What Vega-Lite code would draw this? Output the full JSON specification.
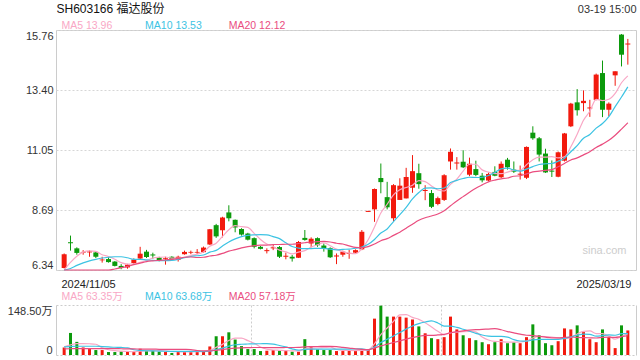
{
  "$schema": "https://vega.github.io/schema/vega-lite/v6.json",
  "padding": {"left": 7, "top": 1, "right": 5, "bottom": 5},
  "background": "white",
  "config": {
    "font": "Liberation Sans, Noto Sans CJK SC, sans-serif",
    "view": {"stroke": "#cccccc"},
    "axis": {"labelFont": "Liberation Sans, Noto Sans CJK SC, sans-serif", "titleFont": "Liberation Sans, Noto Sans CJK SC, sans-serif"}
  },
  "data": {"values": [
    {"i":0,"d":"2024-11-05","o":6.42,"h":6.99,"l":6.40,"c":6.96,"v":22.5,"m5":6.33,"m10":6.30,"m20":6.22,"vm5":24,"vm10":24,"vm20":18},
    {"i":1,"d":"2024-11-06","o":7.43,"h":7.69,"l":7.10,"c":7.39,"v":65.5,"m5":6.64,"m10":6.40,"m20":6.23,"vm5":30,"vm10":25,"vm20":18.5},
    {"i":2,"d":"2024-11-07","o":7.19,"h":7.23,"l":6.94,"c":7.01,"v":39,"m5":6.88,"m10":6.52,"m20":6.25,"vm5":34,"vm10":26,"vm20":19},
    {"i":3,"d":"2024-11-08","o":7.02,"h":7.12,"l":6.94,"c":7.05,"v":22.5,"m5":7.04,"m10":6.62,"m20":6.26,"vm5":34,"vm10":26,"vm20":19},
    {"i":4,"d":"2024-11-11","o":7.03,"h":7.11,"l":6.86,"c":7.07,"v":17.6,"m5":7.09,"m10":6.70,"m20":6.28,"vm5":33.4,"vm10":26,"vm20":19},
    {"i":5,"d":"2024-11-12","o":7.03,"h":7.07,"l":6.81,"c":6.86,"v":14.7,"m5":7.07,"m10":6.76,"m20":6.29,"vm5":31.9,"vm10":26,"vm20":19},
    {"i":6,"d":"2024-11-13","o":6.72,"h":6.86,"l":6.63,"c":6.75,"v":14.7,"m5":6.94,"m10":6.81,"m20":6.31,"vm5":21.7,"vm10":25,"vm20":19},
    {"i":7,"d":"2024-11-14","o":6.77,"h":6.84,"l":6.63,"c":6.65,"v":8.8,"m5":6.87,"m10":6.84,"m20":6.33,"vm5":15.7,"vm10":24,"vm20":19},
    {"i":8,"d":"2024-11-15","o":6.67,"h":6.69,"l":6.48,"c":6.50,"v":8.8,"m5":6.76,"m10":6.86,"m20":6.38,"vm5":12.9,"vm10":23,"vm20":19},
    {"i":9,"d":"2024-11-18","o":6.50,"h":6.57,"l":6.37,"c":6.42,"v":10.7,"m5":6.63,"m10":6.86,"m20":6.43,"vm5":11.5,"vm10":22.5,"vm20":18.5},
    {"i":10,"d":"2024-11-19","o":6.44,"h":6.58,"l":6.39,"c":6.55,"v":9.8,"m5":6.57,"m10":6.82,"m20":6.48,"vm5":10.6,"vm10":21.2,"vm20":18},
    {"i":11,"d":"2024-11-20","o":6.61,"h":6.80,"l":6.58,"c":6.75,"v":9.8,"m5":6.57,"m10":6.76,"m20":6.55,"vm5":9.6,"vm10":15.6,"vm20":18},
    {"i":12,"d":"2024-11-21","o":6.79,"h":7.25,"l":6.76,"c":6.98,"v":18.6,"m5":6.64,"m10":6.76,"m20":6.61,"vm5":11.5,"vm10":13.6,"vm20":17.5},
    {"i":13,"d":"2024-11-22","o":7.06,"h":7.13,"l":6.81,"c":6.85,"v":12.7,"m5":6.71,"m10":6.74,"m20":6.67,"vm5":12.3,"vm10":12.6,"vm20":17.5},
    {"i":14,"d":"2024-11-25","o":6.95,"h":7.02,"l":6.78,"c":6.91,"v":12.7,"m5":6.81,"m10":6.72,"m20":6.70,"vm5":12.7,"vm10":12.1,"vm20":17.5},
    {"i":15,"d":"2024-11-26","o":6.83,"h":6.86,"l":6.68,"c":6.70,"v":9.8,"m5":6.84,"m10":6.71,"m20":6.72,"vm5":12.7,"vm10":11.6,"vm20":17},
    {"i":16,"d":"2024-11-27","o":6.78,"h":6.86,"l":6.55,"c":6.81,"v":8.8,"m5":6.85,"m10":6.71,"m20":6.74,"vm5":12.5,"vm10":11.1,"vm20":17},
    {"i":17,"d":"2024-11-28","o":6.86,"h":6.88,"l":6.74,"c":6.76,"v":5.9,"m5":6.81,"m10":6.72,"m20":6.76,"vm5":10.0,"vm10":10.8,"vm20":17},
    {"i":18,"d":"2024-11-29","o":6.74,"h":6.90,"l":6.67,"c":6.86,"v":10.7,"m5":6.81,"m10":6.76,"m20":6.79,"vm5":9.6,"vm10":11.0,"vm20":17},
    {"i":19,"d":"2024-12-02","o":6.96,"h":7.10,"l":6.94,"c":7.05,"v":10.7,"m5":6.84,"m10":6.82,"m20":6.84,"vm5":9.2,"vm10":11.0,"vm20":16.7},
    {"i":20,"d":"2024-12-03","o":7.02,"h":7.10,"l":6.96,"c":7.05,"v":10.7,"m5":6.91,"m10":6.87,"m20":6.85,"vm5":9.4,"vm10":11.0,"vm20":16.1},
    {"i":21,"d":"2024-12-04","o":7.02,"h":7.16,"l":6.97,"c":7.05,"v":10.7,"m5":6.96,"m10":6.90,"m20":6.83,"vm5":9.7,"vm10":11.1,"vm20":13.4},
    {"i":22,"d":"2024-12-05","o":7.04,"h":7.26,"l":7.02,"c":7.22,"v":10.7,"m5":7.05,"m10":6.93,"m20":6.84,"vm5":10.7,"vm10":10.3,"vm20":12.0},
    {"i":23,"d":"2024-12-06","o":7.34,"h":7.95,"l":7.32,"c":7.94,"v":25.4,"m5":7.27,"m10":7.04,"m20":6.89,"vm5":13.6,"vm10":11.6,"vm20":12.1},
    {"i":24,"d":"2024-12-09","o":8.10,"h":8.15,"l":7.60,"c":7.66,"v":55.7,"m5":7.39,"m10":7.11,"m20":6.92,"vm5":22.6,"vm10":15.9,"vm20":14.0},
    {"i":25,"d":"2024-12-10","o":7.90,"h":8.43,"l":7.62,"c":8.40,"v":55.7,"m5":7.66,"m10":7.28,"m20":6.99,"vm5":31.6,"vm10":20.5,"vm20":16.1},
    {"i":26,"d":"2024-12-11","o":8.60,"h":8.88,"l":8.25,"c":8.37,"v":67.4,"m5":7.92,"m10":7.44,"m20":7.08,"vm5":43.0,"vm10":26.4,"vm20":18.7},
    {"i":27,"d":"2024-12-12","o":8.31,"h":8.32,"l":7.82,"c":8.01,"v":45.9,"m5":8.08,"m10":7.56,"m20":7.14,"vm5":50.0,"vm10":30.4,"vm20":20.6},
    {"i":28,"d":"2024-12-13","o":7.95,"h":7.98,"l":7.69,"c":7.73,"v":26.4,"m5":8.04,"m10":7.65,"m20":7.21,"vm5":50.2,"vm10":31.9,"vm20":21.4},
    {"i":29,"d":"2024-12-16","o":7.77,"h":7.80,"l":7.50,"c":7.53,"v":17.6,"m5":8.01,"m10":7.70,"m20":7.26,"vm5":42.6,"vm10":32.6,"vm20":21.8},
    {"i":30,"d":"2024-12-17","o":7.59,"h":7.62,"l":7.19,"c":7.25,"v":17.6,"m5":7.78,"m10":7.72,"m20":7.30,"vm5":35.0,"vm10":33.3,"vm20":22.2},
    {"i":31,"d":"2024-12-18","o":7.25,"h":7.28,"l":7.15,"c":7.17,"v":11.7,"m5":7.54,"m10":7.73,"m20":7.32,"vm5":23.8,"vm10":33.4,"vm20":22.3},
    {"i":32,"d":"2024-12-19","o":7.08,"h":7.19,"l":6.99,"c":7.12,"v":12.7,"m5":7.36,"m10":7.72,"m20":7.32,"vm5":17.2,"vm10":33.6,"vm20":22.0},
    {"i":33,"d":"2024-12-20","o":7.19,"h":7.36,"l":7.12,"c":7.23,"v":14.7,"m5":7.26,"m10":7.65,"m20":7.34,"vm5":14.9,"vm10":32.5,"vm20":22.1},
    {"i":34,"d":"2024-12-23","o":7.24,"h":7.28,"l":6.81,"c":6.86,"v":12.7,"m5":7.12,"m10":7.57,"m20":7.34,"vm5":13.9,"vm10":28.2,"vm20":22.1},
    {"i":35,"d":"2024-12-24","o":6.86,"h":7.02,"l":6.76,"c":6.90,"v":12.7,"m5":7.05,"m10":7.41,"m20":7.35,"vm5":12.9,"vm10":23.9,"vm20":22.2},
    {"i":36,"d":"2024-12-25","o":6.86,"h":6.93,"l":6.67,"c":6.79,"v":9.8,"m5":6.97,"m10":7.26,"m20":7.35,"vm5":12.5,"vm10":18.2,"vm20":22.3},
    {"i":37,"d":"2024-12-26","o":6.82,"h":7.48,"l":6.81,"c":7.44,"v":9.8,"m5":7.04,"m10":7.20,"m20":7.38,"vm5":11.9,"vm10":14.6,"vm20":22.5},
    {"i":38,"d":"2024-12-27","o":7.60,"h":7.91,"l":7.49,"c":7.52,"v":47,"m5":7.10,"m10":7.18,"m20":7.41,"vm5":18.4,"vm10":16.6,"vm20":24.3},
    {"i":39,"d":"2024-12-30","o":7.38,"h":7.62,"l":7.23,"c":7.57,"v":24.4,"m5":7.24,"m10":7.18,"m20":7.44,"vm5":20.7,"vm10":17.3,"vm20":25.0},
    {"i":40,"d":"2024-12-31","o":7.59,"h":7.62,"l":7.25,"c":7.31,"v":16.6,"m5":7.33,"m10":7.19,"m20":7.45,"vm5":21.5,"vm10":17.2,"vm20":25.3},
    {"i":41,"d":"2025-01-02","o":7.30,"h":7.38,"l":7.06,"c":7.20,"v":14.7,"m5":7.41,"m10":7.19,"m20":7.46,"vm5":22.5,"vm10":17.5,"vm20":25.5},
    {"i":42,"d":"2025-01-03","o":7.20,"h":7.23,"l":6.81,"c":6.84,"v":14.7,"m5":7.29,"m10":7.16,"m20":7.44,"vm5":23.5,"vm10":17.7,"vm20":25.7},
    {"i":43,"d":"2025-01-06","o":6.87,"h":6.99,"l":6.57,"c":6.91,"v":11.7,"m5":7.16,"m10":7.13,"m20":7.39,"vm5":16.4,"vm10":17.4,"vm20":25.0},
    {"i":44,"d":"2025-01-07","o":6.94,"h":7.10,"l":6.86,"c":7.06,"v":11.7,"m5":7.06,"m10":7.15,"m20":7.36,"vm5":13.9,"vm10":17.3,"vm20":22.8},
    {"i":45,"d":"2025-01-08","o":6.97,"h":7.13,"l":6.78,"c":7.01,"v":13.7,"m5":7.00,"m10":7.16,"m20":7.29,"vm5":13.3,"vm10":17.4,"vm20":20.7},
    {"i":46,"d":"2025-01-09","o":7.02,"h":7.15,"l":6.99,"c":7.12,"v":13.7,"m5":6.98,"m10":7.20,"m20":7.23,"vm5":13.1,"vm10":17.8,"vm20":18.0},
    {"i":47,"d":"2025-01-10","o":7.15,"h":7.91,"l":7.12,"c":7.84,"v":16.6,"m5":7.18,"m10":7.24,"m20":7.22,"vm5":13.5,"vm10":18.5,"vm20":16.5},
    {"i":48,"d":"2025-01-13","o":8.62,"h":8.66,"l":8.62,"c":8.66,"v":16.6,"m5":7.53,"m10":7.35,"m20":7.26,"vm5":14.5,"vm10":15.4,"vm20":16.0},
    {"i":49,"d":"2025-01-14","o":8.72,"h":9.54,"l":8.23,"c":9.52,"v":108,"m5":8.03,"m10":7.54,"m20":7.36,"vm5":33.7,"vm10":23.8,"vm20":20.6},
    {"i":50,"d":"2025-01-15","o":9.95,"h":10.52,"l":9.35,"c":9.79,"v":146.5,"m5":8.58,"m10":7.79,"m20":7.49,"vm5":60.3,"vm10":36.8,"vm20":27},
    {"i":51,"d":"2025-01-16","o":9.20,"h":9.80,"l":8.72,"c":8.80,"v":114,"m5":8.92,"m10":7.95,"m20":7.57,"vm5":80.3,"vm10":46.7,"vm20":32.1},
    {"i":52,"d":"2025-01-17","o":8.37,"h":9.71,"l":8.26,"c":9.67,"v":114,"m5":9.29,"m10":8.24,"m20":7.70,"vm5":99.8,"vm10":56.7,"vm20":37.2},
    {"i":53,"d":"2025-01-20","o":9.09,"h":9.94,"l":9.09,"c":9.65,"v":114,"m5":9.49,"m10":8.51,"m20":7.82,"vm5":119.3,"vm10":66.9,"vm20":42.1},
    {"i":54,"d":"2025-01-21","o":9.15,"h":10.35,"l":9.15,"c":9.99,"v":111,"m5":9.58,"m10":8.80,"m20":7.98,"vm5":119.9,"vm10":76.8,"vm20":47.1},
    {"i":55,"d":"2025-01-22","o":9.57,"h":10.85,"l":9.37,"c":10.22,"v":105.5,"m5":9.67,"m10":9.13,"m20":8.14,"vm5":111.7,"vm10":86.0,"vm20":51.7},
    {"i":56,"d":"2025-01-23","o":10.14,"h":10.51,"l":9.53,"c":9.71,"v":85,"m5":9.85,"m10":9.38,"m20":8.29,"vm5":105.9,"vm10":93.1,"vm20":55.5},
    {"i":57,"d":"2025-01-24","o":9.44,"h":9.67,"l":9.08,"c":9.48,"v":64.5,"m5":9.81,"m10":9.55,"m20":8.39,"vm5":96,"vm10":97.9,"vm20":58.2},
    {"i":58,"d":"2025-01-27","o":9.36,"h":9.48,"l":8.77,"c":8.82,"v":50,"m5":9.64,"m10":9.56,"m20":8.46,"vm5":83.2,"vm10":101.3,"vm20":58.3},
    {"i":59,"d":"2025-02-05","o":8.93,"h":9.22,"l":8.88,"c":9.16,"v":47,"m5":9.48,"m10":9.53,"m20":8.54,"vm5":70.4,"vm10":95.2,"vm20":59.5},
    {"i":60,"d":"2025-02-06","o":9.09,"h":10.10,"l":9.05,"c":10.06,"v":53,"m5":9.44,"m10":9.56,"m20":8.67,"vm5":59.9,"vm10":85.8,"vm20":61.3},
    {"i":61,"d":"2025-02-07","o":10.60,"h":11.11,"l":10.28,"c":10.98,"v":114,"m5":9.70,"m10":9.77,"m20":8.86,"vm5":65.7,"vm10":85.8,"vm20":66.3},
    {"i":62,"d":"2025-02-10","o":10.52,"h":10.77,"l":10.28,"c":10.56,"v":76,"m5":9.91,"m10":9.86,"m20":9.05,"vm5":68,"vm10":82,"vm20":69.3},
    {"i":63,"d":"2025-02-11","o":10.59,"h":11.04,"l":10.34,"c":10.37,"v":58.6,"m5":10.22,"m10":9.93,"m20":9.22,"vm5":69.7,"vm10":76.5,"vm20":71.7},
    {"i":64,"d":"2025-02-12","o":10.08,"h":10.75,"l":10.02,"c":10.51,"v":50,"m5":10.49,"m10":9.98,"m20":9.39,"vm5":70.3,"vm10":70.4,"vm20":73.6},
    {"i":65,"d":"2025-02-13","o":10.30,"h":10.63,"l":10.02,"c":10.07,"v":44,"m5":10.49,"m10":9.97,"m20":9.55,"vm5":68.5,"vm10":64.2,"vm20":75.1},
    {"i":66,"d":"2025-02-14","o":10.04,"h":10.15,"l":9.78,"c":9.86,"v":38,"m5":10.27,"m10":9.98,"m20":9.68,"vm5":53.3,"vm10":59.5,"vm20":76.3},
    {"i":67,"d":"2025-02-17","o":9.85,"h":10.17,"l":9.82,"c":10.11,"v":32,"m5":10.18,"m10":10.05,"m20":9.80,"vm5":44.5,"vm10":56.3,"vm20":77.1},
    {"i":68,"d":"2025-02-18","o":10.19,"h":10.41,"l":10.02,"c":10.04,"v":38,"m5":10.12,"m10":10.17,"m20":9.87,"vm5":40.4,"vm10":55.1,"vm20":78.2},
    {"i":69,"d":"2025-02-19","o":9.98,"h":10.60,"l":9.95,"c":10.51,"v":47,"m5":10.12,"m10":10.31,"m20":9.92,"vm5":39.8,"vm10":55.1,"vm20":75.1},
    {"i":70,"d":"2025-02-20","o":10.67,"h":10.74,"l":10.28,"c":10.37,"v":35,"m5":10.18,"m10":10.34,"m20":9.95,"vm5":38,"vm10":53.3,"vm20":69.5},
    {"i":71,"d":"2025-02-21","o":10.28,"h":10.60,"l":10.15,"c":10.20,"v":38,"m5":10.25,"m10":10.26,"m20":10.02,"vm5":38,"vm10":45.7,"vm20":65.7},
    {"i":72,"d":"2025-02-24","o":10.08,"h":10.44,"l":9.89,"c":10.12,"v":35,"m5":10.25,"m10":10.22,"m20":10.04,"vm5":38.6,"vm10":41.6,"vm20":61.8},
    {"i":73,"d":"2025-02-25","o":9.96,"h":11.19,"l":9.91,"c":11.17,"v":53,"m5":10.47,"m10":10.30,"m20":10.11,"vm5":41.6,"vm10":41,"vm20":58.7},
    {"i":74,"d":"2025-02-26","o":11.73,"h":11.98,"l":11.45,"c":11.51,"v":91,"m5":10.67,"m10":10.40,"m20":10.19,"vm5":50.4,"vm10":45.1,"vm20":57.7},
    {"i":75,"d":"2025-02-27","o":11.51,"h":11.56,"l":10.60,"c":10.87,"v":58.6,"m5":10.77,"m10":10.48,"m20":10.22,"vm5":55.1,"vm10":46.6,"vm20":55.4},
    {"i":76,"d":"2025-02-28","o":10.91,"h":11.10,"l":10.15,"c":10.17,"v":35,"m5":10.77,"m10":10.51,"m20":10.25,"vm5":54.5,"vm10":46.3,"vm20":52.9},
    {"i":77,"d":"2025-03-03","o":10.24,"h":10.64,"l":9.99,"c":10.20,"v":29,"m5":10.79,"m10":10.52,"m20":10.28,"vm5":53.3,"vm10":46,"vm20":51.1},
    {"i":78,"d":"2025-03-04","o":10.00,"h":10.99,"l":9.98,"c":10.96,"v":41,"m5":10.74,"m10":10.61,"m20":10.39,"vm5":50.9,"vm10":46.3,"vm20":50.7},
    {"i":79,"d":"2025-03-05","o":10.63,"h":11.72,"l":10.60,"c":11.70,"v":79,"m5":10.78,"m10":10.73,"m20":10.52,"vm5":48.5,"vm10":49.5,"vm20":52.3},
    {"i":80,"d":"2025-03-06","o":11.98,"h":12.90,"l":11.95,"c":12.87,"v":76,"m5":11.18,"m10":10.98,"m20":10.66,"vm5":52,"vm10":53.6,"vm20":53.4},
    {"i":81,"d":"2025-03-07","o":12.92,"h":13.44,"l":12.40,"c":12.61,"v":88,"m5":11.67,"m10":11.22,"m20":10.74,"vm5":62.6,"vm10":58.6,"vm20":52.1},
    {"i":82,"d":"2025-03-10","o":12.89,"h":13.39,"l":12.57,"c":12.98,"v":68,"m5":12.22,"m10":11.51,"m20":10.86,"vm5":70.4,"vm10":61.9,"vm20":51.7},
    {"i":83,"d":"2025-03-11","o":12.68,"h":13.02,"l":12.35,"c":12.72,"v":47,"m5":12.57,"m10":11.66,"m20":10.98,"vm5":71.6,"vm10":61.3,"vm20":51.1},
    {"i":84,"d":"2025-03-12","o":13.02,"h":14.05,"l":13.00,"c":14.01,"v":38,"m5":13.04,"m10":11.91,"m20":11.15,"vm5":63.4,"vm10":56,"vm20":50.5},
    {"i":85,"d":"2025-03-13","o":14.07,"h":14.56,"l":12.34,"c":12.63,"v":76,"m5":12.99,"m10":12.09,"m20":11.28,"vm5":63.4,"vm10":57.7,"vm20":52.1},
    {"i":86,"d":"2025-03-14","o":12.63,"h":12.92,"l":12.37,"c":12.87,"v":53,"m5":13.04,"m10":12.36,"m20":11.43,"vm5":56.4,"vm10":59.5,"vm20":52.9},
    {"i":87,"d":"2025-03-17","o":13.98,"h":14.14,"l":13.57,"c":14.14,"v":20.5,"m5":13.27,"m10":12.75,"m20":11.63,"vm5":46.9,"vm10":58.7,"vm20":52.3},
    {"i":88,"d":"2025-03-18","o":15.58,"h":15.60,"l":14.33,"c":14.79,"v":88,"m5":13.69,"m10":13.13,"m20":11.87,"vm5":55.1,"vm10":63.4,"vm20":54.8},
    {"i":89,"d":"2025-03-19","o":15.19,"h":15.41,"l":14.40,"c":15.23,"v":73,"m5":13.96,"m10":13.53,"m20":12.12,"vm5":63.35,"vm10":63.68,"vm20":57.18}
  ]},
  "bounds": "flush",
  "spacing": 35,
  "vconcat": [
    {
      "width": 580,
      "height": 240,
      "resolve": {"axis": {"x": "independent", "y": "independent"}},
      "layer": [
        {
          "mark": {"type": "rule", "strokeWidth": 1},
          "encoding": {
            "x": {"field": "i", "type": "quantitative", "scale": {"domain": [-0.5, 89.5], "nice": false, "zero": false},
              "axis": {"orient": "bottom", "values": [-0.5, 89.5], "labelExpr": "datum.value < 0 ? '2024/11/05' : '2025/03/19'", "labelFlush": false, "labelAlign": {"condition": {"test": "datum.value < 0", "value": "left"}, "value": "right"}, "labelOverlap": false, "ticks": false, "tickSize": 0, "domain": false, "grid": false, "labelPadding": 8, "labelFontSize": 11, "labelColor": "#222222",
                "title": "sina.com", "titleX": 570, "titleY": -20, "titleAlign": "right", "titleBaseline": "middle", "titleAngle": 0, "titleFontSize": 11, "titleFontWeight": "normal", "titleColor": "#cdcdcd"}},
            "y": {"field": "l", "type": "quantitative", "scale": {"domain": [6.34, 15.76], "nice": false, "zero": false, "clamp": true},
              "axis": {"orient": "left", "values": [6.34, 8.69, 11.05, 13.40, 15.76], "format": ".2f", "labelFlush": false, "labelBaseline": {"condition": [{"test": "datum.value < 7", "value": "bottom"}, {"test": "datum.value > 15", "value": "top"}], "value": "middle"}, "labelOverlap": false, "ticks": false, "tickSize": 0, "domain": false, "grid": true, "gridColor": "#d6d6d6", "gridDash": [2, 2], "labelPadding": 3, "labelFontSize": 11, "labelColor": "#333333",
                "title": "SH603166 福达股份", "titleX": 0, "titleY": -22, "titleAngle": 0, "titleAlign": "left", "titleBaseline": "middle", "titleFontSize": 12, "titleFontWeight": "normal", "titleColor": "#111111"}},
            "y2": {"field": "h"},
            "color": {"condition": {"test": "datum.c >= datum.o", "value": "#f21a0e"}, "value": "#0c9a0c"}
          }
        },
        {
          "mark": {"type": "bar", "size": 5},
          "encoding": {
            "x": {"field": "i", "type": "quantitative", "scale": {"domain": [-0.5, 89.5], "nice": false, "zero": false}, "axis": null},
            "y": {"field": "o", "type": "quantitative", "scale": {"domain": [6.34, 15.76], "nice": false, "zero": false, "clamp": true}, "axis": null},
            "y2": {"field": "c"},
            "color": {"condition": {"test": "datum.c >= datum.o", "value": "#f21a0e"}, "value": "#0c9a0c"}
          }
        },
        {
          "mark": {"type": "line", "interpolate": "monotone", "strokeWidth": 1.2, "color": "#f9a7c5"},
          "encoding": {
            "x": {"field": "i", "type": "quantitative", "scale": {"domain": [-0.5, 89.5], "nice": false, "zero": false},
              "axis": {"orient": "top", "values": [-0.5, 12.7, 25.9], "labelExpr": "datum.value < 0 ? 'MA5 13.96' : datum.value < 20 ? 'MA10 13.53' : 'MA20 12.12'", "labelAlign": "left", "labelBaseline": "bottom", "labelPadding": 0, "labelFlush": false, "labelOverlap": false, "ticks": false, "tickSize": 0, "domain": false, "grid": false, "labelFontSize": 10.5,
                "labelColor": {"condition": [{"test": "datum.value < 0", "value": "#f9a7c5"}, {"test": "datum.value < 20", "value": "#3cc3e3"}], "value": "#ea4d7f"},
                "title": "03-19 15:00", "titleX": 580, "titleY": -21, "titleAlign": "right", "titleBaseline": "middle", "titleAngle": 0, "titleFontSize": 11, "titleFontWeight": "normal", "titleColor": "#333333"}},
            "y": {"field": "m5", "type": "quantitative", "scale": {"domain": [6.34, 15.76], "nice": false, "zero": false, "clamp": true}, "axis": null}
          }
        },
        {
          "mark": {"type": "line", "interpolate": "monotone", "strokeWidth": 1.2, "color": "#3cc3e3"},
          "encoding": {
            "x": {"field": "i", "type": "quantitative", "scale": {"domain": [-0.5, 89.5], "nice": false, "zero": false}, "axis": null},
            "y": {"field": "m10", "type": "quantitative", "scale": {"domain": [6.34, 15.76], "nice": false, "zero": false, "clamp": true}, "axis": null}
          }
        },
        {
          "mark": {"type": "line", "interpolate": "monotone", "strokeWidth": 1.2, "color": "#ea4d7f"},
          "encoding": {
            "x": {"field": "i", "type": "quantitative", "scale": {"domain": [-0.5, 89.5], "nice": false, "zero": false}, "axis": null},
            "y": {"field": "m20", "type": "quantitative", "scale": {"domain": [6.34, 15.76], "nice": false, "zero": false, "clamp": true}, "axis": null}
          }
        }
      ]
    },
    {
      "width": 580,
      "height": 50,
      "view": {"stroke": null},
      "resolve": {"axis": {"x": "independent", "y": "independent"}},
      "layer": [
        {
          "mark": {"type": "bar", "size": 3},
          "encoding": {
            "x": {"field": "i", "type": "quantitative", "scale": {"domain": [-0.5, 89.5], "nice": false, "zero": false},
              "axis": {"orient": "bottom", "values": [29.5, 59.5], "labels": false, "ticks": false, "tickSize": 0, "domain": false, "grid": true, "gridDash": [2, 2], "gridColor": "#cccccc", "title": null}},
            "y": {"field": "v", "type": "quantitative", "scale": {"domain": [0, 148.5], "nice": false, "clamp": true},
              "axis": {"orient": "left", "values": [0, 148.5], "labelExpr": "datum.value == 0 ? '0' : '148.50万'", "labelFlush": true, "labelOverlap": false, "ticks": false, "tickSize": 0, "domain": true, "domainColor": "#cccccc", "grid": true, "gridDash": [2, 2], "gridColor": "#cccccc", "labelPadding": 4, "labelFontSize": 11, "labelColor": "#333333", "title": null}},
            "color": {"condition": {"test": "datum.c >= datum.o", "value": "#f21a0e"}, "value": "#0c9a0c"}
          }
        },
        {
          "mark": {"type": "line", "interpolate": "monotone", "strokeWidth": 1.2, "color": "#f9a7c5"},
          "encoding": {
            "x": {"field": "i", "type": "quantitative", "scale": {"domain": [-0.5, 89.5], "nice": false, "zero": false},
              "axis": {"orient": "top", "values": [-0.5, 12.7, 25.9], "labelExpr": "datum.value < 0 ? 'MA5 63.35万' : datum.value < 20 ? 'MA10 63.68万' : 'MA20 57.18万'", "labelAlign": "left", "labelBaseline": "bottom", "labelPadding": 4, "labelFlush": false, "labelOverlap": false, "ticks": false, "tickSize": 0, "domain": false, "grid": false, "labelFontSize": 10.5,
                "labelColor": {"condition": [{"test": "datum.value < 0", "value": "#f9a7c5"}, {"test": "datum.value < 20", "value": "#3cc3e3"}], "value": "#ea4d7f"},
                "title": null}},
            "y": {"field": "vm5", "type": "quantitative", "scale": {"domain": [0, 148.5], "nice": false, "clamp": true},
              "axis": {"orient": "right", "labels": false, "ticks": false, "tickSize": 0, "grid": false, "domain": true, "domainColor": "#cccccc", "title": null}}
          }
        },
        {
          "mark": {"type": "line", "interpolate": "monotone", "strokeWidth": 1.2, "color": "#3cc3e3"},
          "encoding": {
            "x": {"field": "i", "type": "quantitative", "scale": {"domain": [-0.5, 89.5], "nice": false, "zero": false}, "axis": null},
            "y": {"field": "vm10", "type": "quantitative", "scale": {"domain": [0, 148.5], "nice": false, "clamp": true}, "axis": null}
          }
        },
        {
          "mark": {"type": "line", "interpolate": "monotone", "strokeWidth": 1.2, "color": "#ea4d7f"},
          "encoding": {
            "x": {"field": "i", "type": "quantitative", "scale": {"domain": [-0.5, 89.5], "nice": false, "zero": false}, "axis": null},
            "y": {"field": "vm20", "type": "quantitative", "scale": {"domain": [0, 148.5], "nice": false, "clamp": true}, "axis": null}
          }
        }
      ]
    }
  ]
}
